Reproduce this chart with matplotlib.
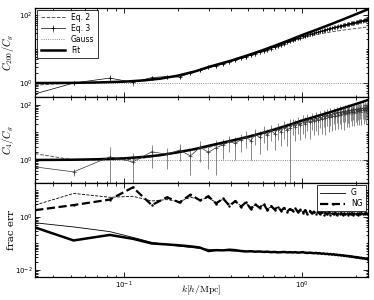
import numpy as np
import matplotlib.pyplot as plt
from matplotlib.ticker import LogLocator, NullFormatter

plt.rcParams['mathtext.fontset'] = 'cm'

# measured k bins [h/Mpc]
k = [0.0316, 0.052, 0.083, 0.112, 0.143, 0.174, 0.205, 0.236, 0.267, 0.298,
     0.329, 0.360, 0.391, 0.422, 0.453, 0.484, 0.515, 0.546, 0.577, 0.608,
     0.639, 0.670, 0.701, 0.732, 0.763, 0.794, 0.825, 0.856, 0.887, 0.918,
     0.949, 0.980, 1.011, 1.042, 1.073, 1.104, 1.135, 1.166, 1.197, 1.228,
     1.259, 1.290, 1.321, 1.352, 1.383, 1.414, 1.445, 1.476, 1.507, 1.538,
     1.569, 1.600, 1.631, 1.662, 1.693, 1.724, 1.755, 1.786, 1.817, 1.848,
     1.879, 1.910, 1.941, 1.972, 2.003, 2.034, 2.065, 2.096, 2.127, 2.158,
     2.189, 2.220, 2.251, 2.282, 2.313, 2.344]

# top panel: C200 / Cg (Eq. 3 measurement)
c200 = [0.48, 1.0, 1.4, 1.05, 1.45, 1.55, 1.5, 2.0, 2.4, 2.9,
        3.2, 3.7, 4.2, 4.7, 5.3, 5.9, 6.6, 7.3, 8.0, 8.7,
        9.6, 10.4, 11.6, 12.4, 13.6, 14.6, 15.8, 17.0, 18.3, 19.5,
        21.0, 22.0, 23.8, 25.0, 26.3, 27.4, 28.8, 29.8, 31.3, 32.0,
        33.8, 34.8, 36.2, 37.3, 38.6, 39.8, 41.2, 42.0, 43.6, 44.2,
        45.8, 47.0, 48.2, 49.3, 50.2, 51.8, 53.0, 54.0, 55.2, 56.3,
        57.2, 58.8, 60.0, 61.0, 62.5, 63.2, 64.8, 66.0, 67.0, 68.4,
        70.0, 71.0, 72.5, 74.0, 75.0, 77.0]
c200_relerr = [0.0, 0.15, 0.25, 0.2, 0.15, 0.15, 0.12, 0.12, 0.1, 0.1] + [0.12] * 66

# middle panel: C4 / Cg (Eq. 3 measurement)
c4 = [0.56, 0.37, 1.3, 0.85, 2.0, 1.6, 2.3, 1.4, 2.9, 1.9,
      2.8, 3.5, 4.8, 4.0, 5.5, 6.8, 5.0, 8.5, 6.6, 10.5,
      8.0, 12.0, 9.0, 13.5, 10.5, 16.0, 12.5, 14.0, 20.0, 16.0,
      22.0, 18.0, 26.0, 21.0, 29.0, 23.0, 31.0, 26.0, 33.0, 28.0,
      37.0, 30.0, 40.0, 33.0, 43.0, 35.0, 47.0, 38.0, 50.0, 41.0,
      53.0, 44.0, 56.0, 46.0, 58.0, 49.0, 61.0, 51.0, 64.0, 53.0,
      66.0, 55.0, 69.0, 57.0, 71.0, 60.0, 73.0, 62.0, 75.0, 64.0,
      78.0, 66.0, 80.0, 68.0, 82.0, 72.0]
c4_relerr = [0.0, 0.3, 1.3, 1.15, 0.75, 0.7, 0.6, 0.8, 0.7, 0.75,
             0.9, 0.7, 0.6, 0.75, 0.65, 0.6, 0.8, 0.6, 0.75, 0.6,
             0.7, 0.6, 0.75, 0.6, 0.7, 0.65, 0.75, 1.2, 0.6, 0.7,
             0.6, 0.7, 0.65, 0.7, 0.6, 0.75, 0.6, 0.7, 0.65, 0.7,
             0.6, 0.7, 0.6, 0.75, 0.6, 0.7, 0.65, 0.7, 0.6, 0.7,
             0.6, 0.7, 0.65, 0.7, 0.6, 0.75, 0.6, 0.7, 0.65, 0.7,
             0.6, 0.7, 0.6, 0.7, 0.65, 0.7, 0.6, 0.7, 0.6, 0.7,
             0.6, 0.7, 0.65, 0.7, 0.6, 0.7]

# Eq. 2 prediction (coarse)
k_eq2 = [0.0316, 0.052, 0.083, 0.112, 0.15, 0.2, 0.3, 0.4, 0.5, 0.7, 1.0, 1.2, 1.5, 1.8, 2.1, 2.344]
c200_eq2 = [0.87, 1.0, 1.05, 1.1, 1.3, 1.6, 2.8, 4.4, 6.4, 11.5, 21, 27, 33, 38, 42, 45]
c4_eq2 = [1.7, 1.0, 1.0, 1.05, 1.35, 1.8, 2.9, 4.4, 6.5, 11.5, 21, 27, 36, 45, 52, 57]

# fits
k_fit = [0.0316, 0.05, 0.07, 0.1, 0.13, 0.16, 0.2, 0.25, 0.3, 0.4, 0.5, 0.6, 0.7, 0.85,
         1.0, 1.2, 1.5, 1.8, 2.1, 2.35]
c200_fit = [1.0, 1.01, 1.04, 1.1, 1.2, 1.35, 1.65, 2.2, 3.0, 4.6, 6.7, 9.3, 12.5, 18.5,
            26, 37, 58, 85, 118, 150]
c4_fit = [1.0, 1.02, 1.06, 1.15, 1.3, 1.5, 1.9, 2.5, 3.3, 5.0, 7.0, 9.6, 12.8, 19,
          27, 38, 59, 86, 118, 150]
gauss = 1.0

# bottom panel: fractional errors
ng_thin = [2.8, 7.7, 5.5, 6.0, 4.0, 4.5, 3.8, 5.5, 4.5, 5.2,
           3.5, 4.6, 3.0, 3.6, 2.7, 3.3, 2.3, 2.8, 2.4, 2.9,
           2.0, 2.4, 2.1, 2.3, 1.8, 2.1, 1.7, 1.9, 1.8, 2.0,
           1.6, 1.8, 1.5, 1.7, 1.4, 1.6, 1.4, 1.55, 1.35, 1.5,
           1.35, 1.45, 1.3, 1.45, 1.3, 1.4, 1.25, 1.4, 1.3, 1.4,
           1.25, 1.35, 1.3, 1.35, 1.25, 1.3, 1.3, 1.35, 1.25, 1.3,
           1.3, 1.35, 1.25, 1.3, 1.3, 1.35, 1.25, 1.3, 1.3, 1.35,
           1.3, 1.3, 1.35, 1.3, 1.3, 1.35]
ng_thick = [1.8, 2.8, 4.5, 13, 2.8, 5.5, 3.5, 7.0, 4.2, 6.0,
            3.2, 5.0, 2.6, 4.0, 2.4, 3.6, 2.0, 3.0, 2.2, 3.1,
            1.8, 2.6, 1.9, 2.4, 1.7, 2.2, 1.6, 2.0, 1.7, 2.1,
            1.5, 1.9, 1.4, 1.8, 1.3, 1.7, 1.35, 1.6, 1.25, 1.55,
            1.3, 1.5, 1.2, 1.45, 1.25, 1.5, 1.2, 1.4, 1.25, 1.45,
            1.2, 1.4, 1.25, 1.4, 1.2, 1.35, 1.25, 1.4, 1.2, 1.35,
            1.25, 1.4, 1.2, 1.35, 1.25, 1.35, 1.2, 1.35, 1.25, 1.4,
            1.25, 1.35, 1.3, 1.4, 1.3, 1.35]
g_thick = [0.40, 0.13, 0.21, 0.15, 0.10, 0.092, 0.085, 0.078, 0.070, 0.052,
           0.056, 0.055, 0.058, 0.056, 0.052, 0.050, 0.051, 0.049, 0.050, 0.048,
           0.049, 0.047, 0.048, 0.046, 0.047, 0.048, 0.046, 0.047, 0.046, 0.047,
           0.045, 0.046, 0.047, 0.045, 0.044, 0.045, 0.044, 0.043, 0.044, 0.042,
           0.043, 0.041, 0.042, 0.040, 0.041, 0.039, 0.040, 0.038, 0.039, 0.037,
           0.038, 0.036, 0.037, 0.035, 0.036, 0.034, 0.035, 0.033, 0.034, 0.032,
           0.033, 0.031, 0.032, 0.030, 0.031, 0.029, 0.030, 0.029, 0.028, 0.029,
           0.027, 0.028, 0.027, 0.026, 0.027, 0.025]
k_gthin = [0.0316, 0.052, 0.083, 0.112, 0.143, 0.2, 0.3, 0.4, 0.5, 0.7, 1.0, 1.5, 2.0, 2.344]
g_thin = [0.6, 0.42, 0.28, 0.17, 0.11, 0.08, 0.06, 0.052, 0.05, 0.048, 0.046, 0.04, 0.032, 0.027]

k = np.array(k)
c200 = np.array(c200)
c4 = np.array(c4)

fig = plt.figure(figsize=(3.74, 3.0), dpi=100)
ax1 = fig.add_axes([0.094, 0.677, 0.890, 0.297])
ax2 = fig.add_axes([0.094, 0.390, 0.890, 0.287])
ax3 = fig.add_axes([0.094, 0.077, 0.890, 0.313])

# top
h_eq2, = ax1.plot(k_eq2, c200_eq2, '--', color='0.35', lw=0.7, label='Eq. 2')
h_eq3 = ax1.errorbar(k, c200, yerr=c200 * np.array(c200_relerr), color='k', lw=0.5,
                     elinewidth=0.5, ecolor='0.3', marker='+', ms=2.5, mew=0.5,
                     capsize=0, label='Eq. 3')
h_gauss = ax1.axhline(gauss, ls=':', color='0.4', lw=0.6, label='Gauss')
h_fit, = ax1.plot(k_fit, c200_fit, 'k-', lw=1.8, label='Fit')
ax1.set_ylim(0.39, 166)

# middle
ax2.plot(k_eq2, c4_eq2, '--', color='0.35', lw=0.7)
ax2.errorbar(k, c4, yerr=c4 * np.array(c4_relerr), color='0.2', lw=0.5,
             elinewidth=0.5, ecolor='0.35', marker='+', ms=2.5, mew=0.5, capsize=0)
ax2.axhline(gauss, ls=':', color='0.4', lw=0.6)
ax2.plot(k_fit, c4_fit, 'k-', lw=1.8)
ax2.set_ylim(0.146, 195)

# bottom
ax3.plot(k_gthin, g_thin, 'k-', lw=0.6, label='G')
ax3.plot(k, g_thick, 'k-', lw=1.8)
ax3.plot(k, ng_thin, '--', color='k', lw=0.6)
ax3.plot(k, ng_thick, '--', color='k', lw=1.6, marker='.', ms=1.5, label='NG')
ax3.set_ylim(0.0055, 19)

for ax in (ax1, ax2, ax3):
    ax.set_xscale('log')
    ax.set_yscale('log')
    ax.set_xlim(0.0316, 2.35)
    ax.xaxis.set_major_locator(LogLocator(base=10, numticks=10))
    ax.xaxis.set_minor_locator(LogLocator(base=10, subs=np.arange(2, 10), numticks=10))
    ax.yaxis.set_minor_locator(LogLocator(base=10, subs=np.arange(1, 10), numticks=20))
    ax.yaxis.set_minor_formatter(NullFormatter())
    ax.tick_params(which='both', direction='in', top=True, right=True, labelsize=5,
                   width=0.6, pad=2)
    ax.tick_params(which='major', length=3.5)
    ax.tick_params(which='minor', length=1.8)
    for s in ax.spines.values():
        s.set_linewidth(0.9)

ax1.set_yticks([1, 100])
ax2.set_yticks([1, 100])
ax3.set_yticks([0.01, 1])
ax1.tick_params(labelbottom=False)
ax2.tick_params(labelbottom=False)

ax1.set_ylabel(r'$C_{200}/C_g$', fontsize=7.5)
ax2.set_ylabel(r'$C_4/C_g$', fontsize=7.5)
ax3.set_ylabel('frac err', fontsize=7.5, family='DejaVu Serif')
for ax in (ax1, ax2, ax3):
    ax.yaxis.set_label_coords(-0.058, 0.5)
ax3.set_xlabel(r'$k[h/\mathrm{Mpc}]$', fontsize=7)
ax3.xaxis.set_label_coords(0.5, -0.075)

leg1 = ax1.legend([h_eq2, h_eq3, h_gauss, h_fit], ['Eq. 2', 'Eq. 3', 'Gauss', 'Fit'],
                  loc='upper left', fontsize=5.5, handlelength=3.2, borderpad=0.4,
                  labelspacing=0.25, fancybox=False, edgecolor='k', borderaxespad=0.3)
leg1.get_frame().set_linewidth(0.7)
leg3 = ax3.legend(loc='upper right', fontsize=5.5, handlelength=3.2, borderpad=0.4,
                  labelspacing=0.25, fancybox=False, edgecolor='k', borderaxespad=0.3)
leg3.get_frame().set_linewidth(0.7)

fig.savefig('out.png', dpi=100)
